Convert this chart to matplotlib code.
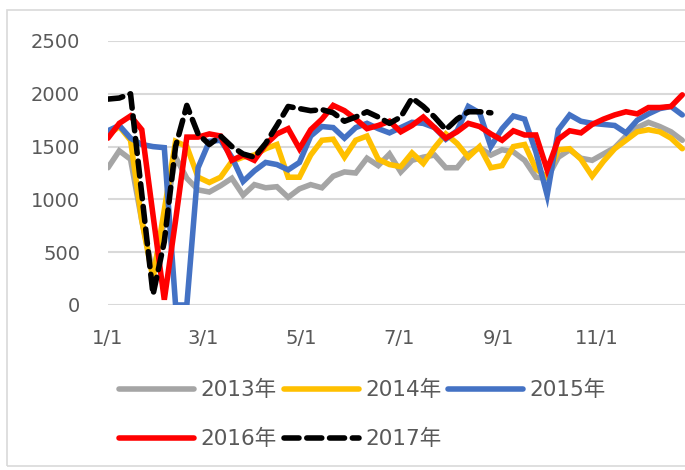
import matplotlib
matplotlib.use("Agg")
import matplotlib.pyplot as plt
from matplotlib.patches import Rectangle

# weekly values, week 0 = 1/1
s2013 = [1300, 1460, 1380, 800, 300, 800, 1400, 1200, 1090, 1070, 1130, 1200, 1040,
         1140, 1110, 1120, 1020, 1100, 1140, 1110, 1220, 1260, 1250, 1390, 1320, 1430,
         1260, 1370, 1400, 1420, 1300, 1300, 1430, 1490, 1420, 1470, 1450, 1370, 1210,
         1200, 1400, 1470, 1390, 1370, 1430, 1490, 1600, 1680, 1730, 1690, 1640, 1560]
s2014 = [1610, 1690, 1560, 800, 250, 900, 1550, 1500, 1210, 1160, 1210, 1360, 1400,
         1420, 1480, 1520, 1210, 1210, 1420, 1560, 1570, 1400, 1560, 1600, 1380, 1330,
         1310, 1440, 1340, 1490, 1620, 1530, 1400, 1500, 1300, 1320, 1500, 1520, 1290,
         1210, 1470, 1480, 1380, 1220, 1360, 1480, 1560, 1640, 1660, 1640, 1580, 1480]
s2015 = [1650, 1700, 1580, 1520, 1500, 1490, 0, 0, 1300, 1550, 1560, 1400, 1170,
         1270, 1350, 1330, 1280, 1350, 1600, 1690, 1680, 1580, 1680, 1720, 1670, 1630,
         1680, 1730, 1720, 1680, 1570, 1650, 1880, 1820, 1500, 1670, 1790, 1760, 1450,
         1040, 1660, 1800, 1740, 1720, 1710, 1700, 1630, 1750, 1810, 1860, 1880, 1800]
s2016 = [1580, 1720, 1790, 1660, 850, 50, 800, 1590, 1590, 1620, 1600, 1370, 1420,
         1370, 1520, 1620, 1670, 1480, 1660, 1760, 1890, 1840, 1760, 1670, 1700, 1740,
         1640, 1700, 1780, 1680, 1580, 1640, 1720, 1690, 1620, 1560, 1650, 1610, 1610,
         1280, 1570, 1650, 1630, 1710, 1760, 1800, 1830, 1810, 1870, 1870, 1880, 1990]
s2017 = [1950, 1960, 2000, 1050, 100, 600, 1500, 1890, 1620, 1520, 1600, 1500, 1430,
         1400, 1530, 1700, 1880, 1860, 1840, 1850, 1820, 1740, 1780, 1830, 1780, 1720,
         1780, 1960, 1880, 1780, 1660, 1760, 1830, 1830, 1820]

labels = ["2013年", "2014年", "2015年", "2016年", "2017年"]
colors = ["#A5A5A5", "#FFC000", "#4472C4", "#FF0000", "#000000"]
tick_days = [0, 59, 120, 181, 243, 304]
tick_labels = ["1/1", "3/1", "5/1", "7/1", "9/1", "11/1"]
y_ticks = [0, 500, 1000, 1500, 2000, 2500]

plt.rcParams["font.family"] = ["DejaVu Sans", "Noto Sans CJK SC"]

fig = plt.figure(figsize=(6.85, 4.7), dpi=100)
W, H = 685, 470
ax = fig.add_axes([108 / W, 1 - 305 / H, 1 - 108 / W + 0.01, (305 - 41) / H])

# chart frame
fig.patches.append(Rectangle((7 / W, 1 - 466 / H), 1.0, (466 - 10) / H,
                             transform=fig.transFigure, fill=False,
                             edgecolor="#D9D9D9", linewidth=1.2))

handles = []
for s, lab, col in zip([s2013, s2014, s2015, s2016, s2017], labels, colors):
    days = [7 * i for i in range(len(s))]
    ls = (0, (2.7, 1.4)) if lab == "2017年" else "-"
    h, = ax.plot(days, s, color=col, lw=4.0, ls=ls, label=lab,
                 solid_joinstyle="miter", solid_capstyle="round",
                 dash_capstyle="round")
    handles.append(h)

ax.set_xlim(0, (685 + 7 - 108) / 1.609)
ax.set_ylim(0, 2500)
ax.set_xticks(tick_days)
ax.set_xticklabels(tick_labels)
ax.set_yticks(y_ticks)
ax.grid(axis="y", color="#D9D9D9", lw=1.5)
ax.set_axisbelow(True)
for sp in ax.spines.values():
    sp.set_visible(False)
ax.tick_params(axis="both", length=0, labelsize=14, colors="#595959")
ax.tick_params(axis="y", pad=20)
ax.tick_params(axis="x", pad=17)

order = [0, 3, 1, 4, 2]
fig.legend([handles[i] for i in order], [labels[i] for i in order],
           ncol=3, loc="upper left", bbox_to_anchor=(119 / W, 1 - 380 / H),
           frameon=False, fontsize=15.5, handlelength=3.5, handletextpad=0.3,
           columnspacing=0.3, labelspacing=1.33, borderpad=0, borderaxespad=0,
           labelcolor="#595959")

fig.savefig("out.png", dpi=100)
